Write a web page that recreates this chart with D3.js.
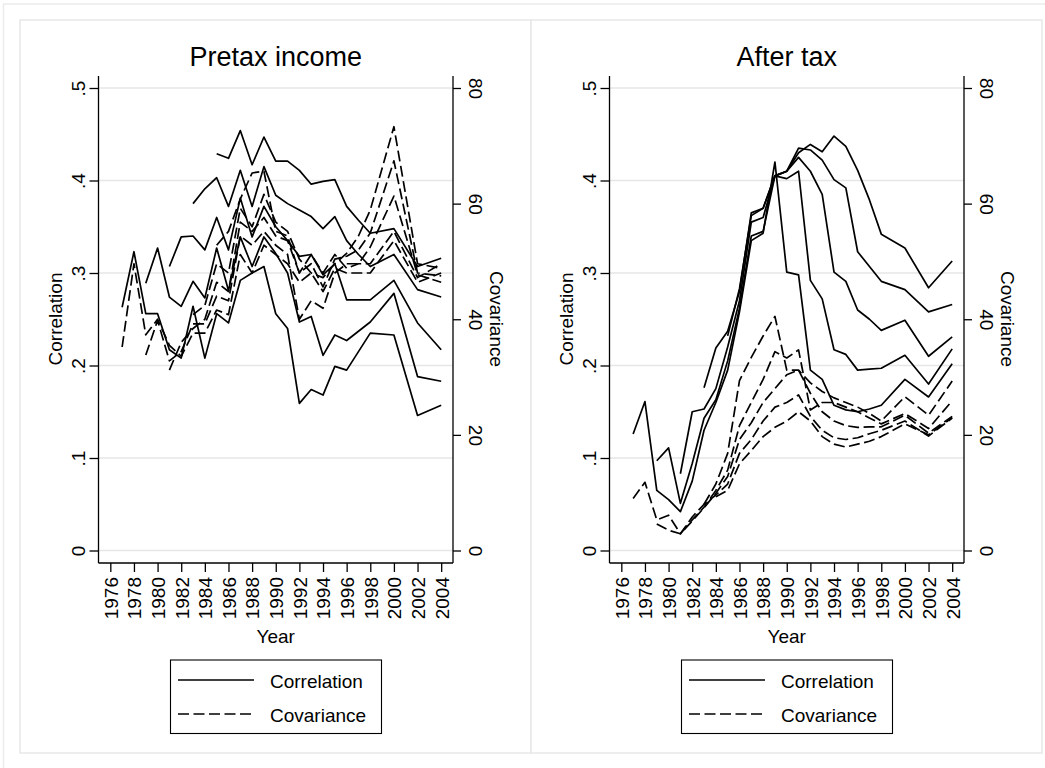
<!DOCTYPE html>
<html><head><meta charset="utf-8">
<script src="https://cdn.jsdelivr.net/npm/d3@7"></script>
<style>
body{margin:0;background:#fff}
svg{display:block}
text{font-family:"Liberation Sans",Arial,Helvetica,sans-serif;fill:#000}
</style>
</head><body>
<svg id="c" width="1045" height="768"></svg>
<script>
// ---------- data ----------
const years = [1977,1978,1979,1980,1981,1982,1983,1984,1985,1986,1987,1988,1989,1990,1991,1992,1993,1994,1995,1996,1997,1998,2000,2002,2004];
const yearTicks = [1976,1978,1980,1982,1984,1986,1988,1990,1992,1994,1996,1998,2000,2002,2004];
const corrTicks = [0,0.1,0.2,0.3,0.4,0.5];
const covTicks = [0,20,40,60,80];
const panelTitles = ["Pretax income","After tax"];
const legendLabels = ["Correlation","Covariance"];

// Pretax income: correlation (left axis)
const pretaxCorrA = [.263,.323,.256,.256,.217,.208,.264,.208,.256,.246,.292,.300,.307,.256,.240,.159,.174,.168,.199,.195,.215,.235,.233,.146,.157];
const pretaxCorrB = [null,null,.289,.327,.274,.264,.291,.273,.327,.281,.339,.307,.339,.321,.300,.247,.253,.211,.233,.227,.237,.247,.278,.188,.183];
const pretaxCorrC = [null,null,null,null,.307,.339,.340,.325,.360,.325,.381,.339,.372,.350,.335,.318,.320,.298,.310,.271,.271,.271,.292,.246,.217];
const pretaxCorrD = [null,null,null,null,null,null,.375,.391,.403,.372,.411,.372,.415,.384,.375,.368,.361,.348,.361,.335,.320,.307,.320,.282,.274];
const pretaxCorrE = [null,null,null,null,null,null,null,null,.429,.424,.454,.417,.447,.421,.421,.411,.396,.399,.401,.372,.357,.343,.348,.307,.316];
// Pretax income: covariance (right axis)
const pretaxCovA = [35.2,49.6,37.3,40.0,35.5,33.6,37.6,37.6,41.6,40.8,51.2,48.0,52.8,51.2,49.6,46.4,48.0,44.8,48.8,48.0,48.0,48.0,53.6,46.4,48.0];
const pretaxCovB = [null,null,33.8,39.8,32.8,34.4,39.2,39.2,44.0,43.2,54.4,52.8,55.2,52.8,51.2,40.0,43.2,41.9,48.0,49.6,49.6,52.5,61.3,47.7,46.4];
const pretaxCovC = [null,null,null,null,31.2,36.0,38.4,40.0,46.4,44.8,56.8,55.2,57.6,54.4,53.6,48.0,49.6,45.6,50.4,50.9,52.0,54.9,67.4,48.0,47.5];
const pretaxCovD = [null,null,null,null,null,null,40.8,42.4,49.6,48.0,59.2,56.0,61.6,56.8,55.2,50.4,48.0,47.2,49.6,51.4,54.4,58.9,73.3,49.6,48.8];
const pretaxCovE = [null,null,null,null,null,null,null,null,52.8,55.2,60.8,65.3,65.6,55.2,54.4,48.0,51.2,48.0,51.2,48.8,49.6,49.6,55.2,47.2,49.6];

// After tax: correlation (left axis)
const afterCorrA = [.126,.161,.065,.055,.042,.075,.130,.160,.195,.258,.335,.343,.420,.301,.298,.195,.185,.157,.152,.150,.153,.157,.185,.166,.202];
const afterCorrB = [null,null,.097,.111,.051,.094,.143,.163,.205,.262,.340,.345,.405,.402,.410,.292,.272,.217,.212,.195,.196,.197,.211,.180,.218];
const afterCorrC = [null,null,null,null,.083,.150,.153,.175,.220,.270,.355,.360,.405,.410,.425,.410,.385,.301,.291,.260,.250,.238,.249,.210,.231];
const afterCorrD = [null,null,null,null,null,null,.176,.219,.237,.280,.365,.370,.405,.410,.435,.433,.422,.401,.392,.323,.307,.291,.282,.258,.266];
const afterCorrE = [null,null,null,null,null,null,null,null,.232,.283,.362,.370,.405,.410,.430,.439,.431,.448,.437,.411,.379,.342,.327,.284,.313];
// After tax: covariance (right axis)
const afterCovA = [9.0,11.8,5.3,6.1,2.9,5.8,8.0,9.6,11.5,16.8,19.2,22.4,24.8,25.6,26.9,23.2,20.8,19.5,19.2,19.5,20.2,20.8,22.4,19.8,22.9];
const afterCovB = [null,null,4.6,3.5,2.9,5.1,7.4,9.9,12.8,19.2,22.1,25.6,28.0,30.4,31.2,27.2,24.0,22.4,21.6,21.3,21.4,21.4,23.4,20.3,23.2];
const afterCovC = [null,null,null,null,2.9,5.3,7.5,10.4,13.9,21.6,25.6,29.6,34.4,33.3,34.7,24.3,25.6,25.6,24.8,24.0,22.9,21.9,23.7,21.1,25.9];
const afterCovD = [null,null,null,null,null,null,8.0,11.5,16.8,29.4,33.4,37.1,40.5,31.2,31.2,29.0,27.5,26.4,25.6,24.8,23.7,22.4,26.6,23.4,29.3];
const afterCovE = [null,null,null,null,null,null,null,9.3,10.4,15.0,17.3,19.7,21.3,22.4,24.0,22.4,19.7,18.4,17.9,18.4,18.9,19.7,21.9,20.0,23.0];

const panelsData = [
  {corr:[pretaxCorrA,pretaxCorrB,pretaxCorrC,pretaxCorrD,pretaxCorrE], cov:[pretaxCovA,pretaxCovB,pretaxCovC,pretaxCovD,pretaxCovE]},
  {corr:[afterCorrA,afterCorrB,afterCorrC,afterCorrD,afterCorrE], cov:[afterCovA,afterCovB,afterCovC,afterCovD,afterCovE]}
];

// ---------- drawing ----------
const svg = d3.select("#c");
const DASH = "11,4.5";
const LW = 1.7;
const FS = 19;

svg.append("rect").attr("x",3.5).attr("y",4).attr("width",1100).attr("height",800)
  .attr("fill","#fff").attr("stroke","#ececec").attr("stroke-width",1.5);

const corrFmt = d => d === 0 ? "0" : d3.format(".1f")(d).replace(/^0/,"");

panelsData.forEach((pd, i) => {
  const off = i * 511;
  const g = svg.append("g");
  g.append("rect").attr("x",20+off).attr("y",20).attr("width",511).attr("height",733)
    .attr("fill","#fff").attr("stroke","#e8e8e8").attr("stroke-width",1.5);

  const L = 98.5 + off, R = 453 + off, T = 76, B = 563;
  const x = d3.scaleLinear().domain([1975,2005]).range([L, R]);
  const y = d3.scaleLinear().domain([0,0.5]).range([550.5, 88]);
  const yc = d3.scaleLinear().domain([0,80]).range([550.5, 88]);

  // gridlines
  g.selectAll(null).data(corrTicks).enter().append("line")
    .attr("x1",L).attr("x2",R).attr("y1",d=>y(d)).attr("y2",d=>y(d))
    .attr("stroke","#e6e6e6").attr("stroke-width",1.5);

  // series
  const lineC = d3.line().defined(d=>d[1]!=null).x(d=>x(d[0])).y(d=>y(d[1]));
  const lineV = d3.line().defined(d=>d[1]!=null).x(d=>x(d[0])).y(d=>yc(d[1]));
  pd.cov.forEach(s => {
    g.append("path").datum(years.map((yr,k)=>[yr,s[k]])).attr("d",lineV)
      .attr("fill","none").attr("stroke","#000").attr("stroke-width",LW)
      .attr("stroke-dasharray",DASH).attr("stroke-linejoin","round");
  });
  pd.corr.forEach(s => {
    g.append("path").datum(years.map((yr,k)=>[yr,s[k]])).attr("d",lineC)
      .attr("fill","none").attr("stroke","#000").attr("stroke-width",LW)
      .attr("stroke-linejoin","round");
  });

  // axis lines
  const axStyle = sel => sel.attr("stroke","#000").attr("stroke-width",1.3);
  axStyle(g.append("line").attr("x1",L).attr("x2",L).attr("y1",T).attr("y2",B));
  axStyle(g.append("line").attr("x1",R).attr("x2",R).attr("y1",T).attr("y2",B));
  axStyle(g.append("line").attr("x1",L).attr("x2",R).attr("y1",B).attr("y2",B));

  // left axis
  const ga = g.append("g").attr("transform",`translate(${L},0)`)
    .call(d3.axisLeft(y).tickValues(corrTicks).tickFormat(corrFmt).tickSize(9).tickSizeOuter(0));
  ga.select(".domain").remove();
  ga.selectAll(".tick line").attr("stroke","#000").attr("stroke-width",1.3);
  ga.selectAll(".tick text").attr("x",null).attr("y",null).attr("dy",null)
    .attr("text-anchor","middle").attr("transform","translate(-14,0) rotate(-90)")
    .style("font-size",FS+"px").attr("fill","#000");

  // right axis
  const gr = g.append("g").attr("transform",`translate(${R},0)`)
    .call(d3.axisRight(yc).tickValues(covTicks).tickSize(8).tickSizeOuter(0));
  gr.select(".domain").remove();
  gr.selectAll(".tick line").attr("stroke","#000").attr("stroke-width",1.3);
  gr.selectAll(".tick text").attr("x",null).attr("y",null).attr("dy",null)
    .attr("text-anchor","middle").attr("transform","translate(16,0) rotate(90)")
    .style("font-size",FS+"px").attr("fill","#000");

  // bottom axis
  const gb = g.append("g").attr("transform",`translate(0,${B})`)
    .call(d3.axisBottom(x).tickValues(yearTicks).tickFormat(d3.format("d")).tickSize(9).tickSizeOuter(0));
  gb.select(".domain").remove();
  gb.selectAll(".tick line").attr("stroke","#000").attr("stroke-width",1.3);
  gb.selectAll(".tick text").attr("x",null).attr("y",null).attr("dy","0.36em")
    .attr("text-anchor","end").attr("transform","translate(0,14) rotate(-90)")
    .style("font-size",FS+"px").attr("fill","#000");

  // titles
  const cx = (L+R)/2;
  g.append("text").attr("x",cx).attr("y",66).attr("text-anchor","middle")
    .style("font-size","27px").text(panelTitles[i]);
  g.append("text").attr("transform",`translate(${62+off},319) rotate(-90)`).attr("text-anchor","middle")
    .style("font-size",FS+"px").text("Correlation");
  g.append("text").attr("transform",`translate(${490+off},319) rotate(90)`).attr("text-anchor","middle")
    .style("font-size",FS+"px").text("Covariance");
  g.append("text").attr("x",cx).attr("y",643).attr("text-anchor","middle")
    .style("font-size",FS+"px").text("Year");

  // legend
  const lg = g.append("g");
  lg.append("rect").attr("x",170.5+off).attr("y",660).attr("width",211).attr("height",73.5)
    .attr("fill","#fff").attr("stroke","#000").attr("stroke-width",1.1);
  [0,1].forEach(j => {
    const ly = j===0 ? 680 : 714;
    lg.append("line").attr("x1",178+off).attr("x2",254+off).attr("y1",ly).attr("y2",ly)
      .attr("stroke","#000").attr("stroke-width",LW).attr("stroke-dasharray", j===1 ? DASH : null);
    lg.append("text").attr("x",270+off).attr("y",ly+8).style("font-size",FS+"px").text(legendLabels[j]);
  });
});
</script>
</body></html>
